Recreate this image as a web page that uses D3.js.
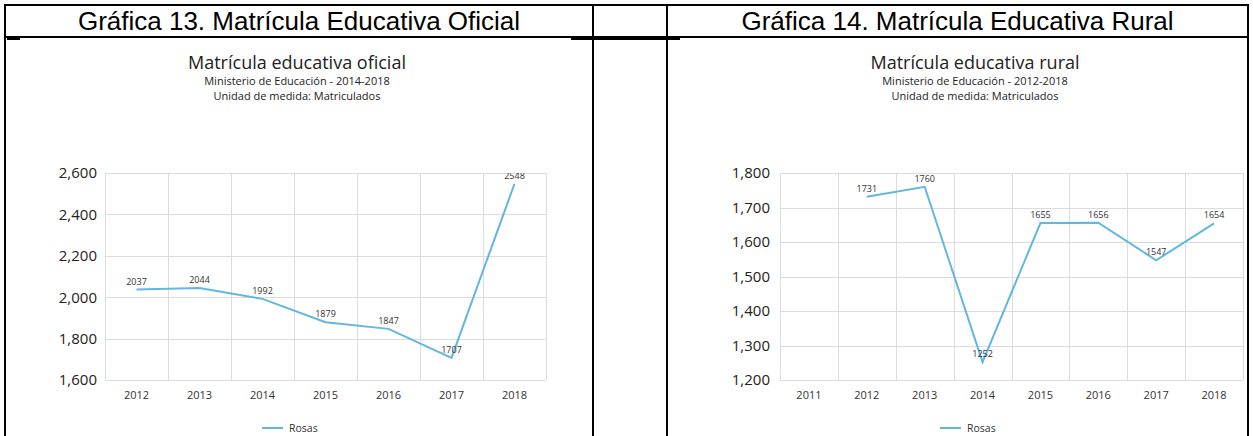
<!DOCTYPE html>
<html>
<head>
<meta charset="utf-8">
<script src="https://cdn.jsdelivr.net/npm/d3@7"></script>
<style>
  body { margin: 0; background: #fff; }
  svg { display: block; }
  .hdr { font-family: "Liberation Sans", Arial, sans-serif; fill: #000; }
  .chart text { font-family: "Segoe UI", "Open Sans", sans-serif; fill: #333; }
</style>
</head>
<body>
<div id="page"></div>
<script>
// Width and height
var width  = 1253;
var height = 436;

// Gráfica 13 - oficial
var years1  = ["2012", "2013", "2014", "2015", "2016", "2017", "2018"];
var values1 = [2037, 2044, 1992, 1879, 1847, 1707, 2548];
var yTicks1 = [1600, 1800, 2000, 2200, 2400, 2600];

// Gráfica 14 - rural (no 2011 value)
var years2  = ["2011", "2012", "2013", "2014", "2015", "2016", "2017", "2018"];
var values2 = [null, 1731, 1760, 1252, 1655, 1656, 1547, 1654];
var yTicks2 = [1200, 1300, 1400, 1500, 1600, 1700, 1800];

var seriesName = "Rosas";
var lineColor  = "#62b6e0";

var svg = d3.select("#page")
    .append("svg")
    .attr("width", width)
    .attr("height", height);

// table borders (word document)
var table = svg.append("g").attr("stroke", "#000").attr("stroke-width", 2);
var colX = [5, 593, 667, 1248];
table.append("line").attr("x1", colX[0] - 1).attr("x2", colX[3] + 1).attr("y1", 5).attr("y2", 5);
table.append("line").attr("x1", colX[0] - 1).attr("x2", colX[3] + 1).attr("y1", 37).attr("y2", 37);
table.append("line").attr("x1", 7).attr("x2", 20).attr("y1", 39).attr("y2", 39);
table.append("line").attr("x1", 571).attr("x2", 680).attr("y1", 39).attr("y2", 39);
colX.forEach(function(x){
    table.append("line").attr("x1", x).attr("x2", x).attr("y1", 4).attr("y2", height);
});

svg.append("text").attr("class", "hdr")
    .attr("x", (colX[0] + colX[1]) / 2).attr("y", 30)
    .attr("text-anchor", "middle").style("font-size", "26px")
    .text("Gráfica 13. Matrícula Educativa Oficial");
svg.append("text").attr("class", "hdr")
    .attr("x", (colX[2] + colX[3]) / 2).attr("y", 30)
    .attr("text-anchor", "middle").style("font-size", "26px")
    .text("Gráfica 14. Matrícula Educativa Rural");

function drawChart(id, cfg, years, values, yTicks) {
    var g = svg.append("g").attr("class", "chart");

    var x = d3.scaleBand().domain(years).range([cfg.left, cfg.right]).padding(0);
    var y = d3.scaleLinear().domain(d3.extent(yTicks)).range([cfg.bottom, cfg.top]);

    // titles
    g.append("text").attr("x", cfg.titleX).attr("y", 69)
        .attr("text-anchor", "middle").style("font-size", "18px").style("fill", "#222")
        .text(cfg.title);
    g.append("text").attr("x", cfg.titleX).attr("y", 85)
        .attr("text-anchor", "middle").style("font-size", "11px").style("fill", "#222")
        .text(cfg.sub);
    g.append("text").attr("x", cfg.titleX).attr("y", 100)
        .attr("text-anchor", "middle").style("font-size", "11px").style("fill", "#222")
        .text("Unidad de medida: Matriculados");

    // grid
    var grid = g.append("g").attr("stroke", "#dcdcdc").attr("stroke-width", 1);
    grid.selectAll(".h").data(yTicks).enter().append("line")
        .attr("x1", cfg.left).attr("x2", cfg.right)
        .attr("y1", function(d){ return Math.round(y(d)) + 0.5; })
        .attr("y2", function(d){ return Math.round(y(d)) + 0.5; });
    var edges = years.map(function(d){ return x(d); }).concat([cfg.right]);
    grid.selectAll(".v").data(edges).enter().append("line")
        .attr("y1", cfg.top).attr("y2", cfg.bottom)
        .attr("x1", function(d){ return Math.round(d) + 0.5; })
        .attr("x2", function(d){ return Math.round(d) + 0.5; });

    // axes
    var yAxis = g.append("g")
        .attr("transform", "translate(" + cfg.left + ",0)")
        .call(d3.axisLeft(y).tickValues(yTicks).tickFormat(d3.format(",")).tickSize(0).tickPadding(cfg.yPad));
    yAxis.select(".domain").remove();
    yAxis.selectAll("text").style("font-size", "15px").style("fill", "#222");

    var xAxis = g.append("g")
        .attr("transform", "translate(0," + cfg.bottom + ")")
        .call(d3.axisBottom(x).tickSize(0).tickPadding(11));
    xAxis.select(".domain").remove();
    xAxis.selectAll("text").style("font-size", "11px").style("fill", "#333");

    // data
    var pts = years.map(function(d, i){ return { year: d, v: values[i] }; });
    var line = d3.line()
        .defined(function(d){ return d.v != null; })
        .x(function(d){ return x(d.year) + x.bandwidth() / 2; })
        .y(function(d){ return y(d.v); });

    g.append("path").datum(pts)
        .attr("d", line)
        .attr("fill", "none")
        .attr("stroke", lineColor)
        .attr("stroke-width", 2);

    svg.append("clipPath").attr("id", id)
        .append("rect")
        .attr("x", cfg.left).attr("y", cfg.top)
        .attr("width", cfg.right - cfg.left).attr("height", cfg.bottom - cfg.top);

    g.append("g").attr("clip-path", "url(#" + id + ")")
        .selectAll("text")
        .data(pts.filter(function(d){ return d.v != null; }))
        .enter().append("text")
        .attr("x", function(d){ return x(d.year) + x.bandwidth() / 2; })
        .attr("y", function(d){ return y(d.v) - 5; })
        .attr("text-anchor", "middle")
        .style("font-size", "9px")
        .text(function(d){ return d.v; });

    // legend
    g.append("line")
        .attr("x1", cfg.legendX).attr("x2", cfg.legendX + 21)
        .attr("y1", 428).attr("y2", 428)
        .attr("stroke", lineColor).attr("stroke-width", 2);
    g.append("text")
        .attr("x", cfg.legendX + 27).attr("y", 432)
        .style("font-size", "10.5px")
        .text(seriesName);
}

drawChart("clipA", {
    left: 105, right: 546, top: 173, bottom: 380, yPad: 8,
    titleX: 297, legendX: 262,
    title: "Matrícula educativa oficial",
    sub: "Ministerio de Educación - 2014-2018"
}, years1, values1, yTicks1);

drawChart("clipB", {
    left: 780, right: 1243, top: 173, bottom: 380, yPad: 10,
    titleX: 975, legendX: 940,
    title: "Matrícula educativa rural",
    sub: "Ministerio de Educación - 2012-2018"
}, years2, values2, yTicks2);
</script>
</body>
</html>
